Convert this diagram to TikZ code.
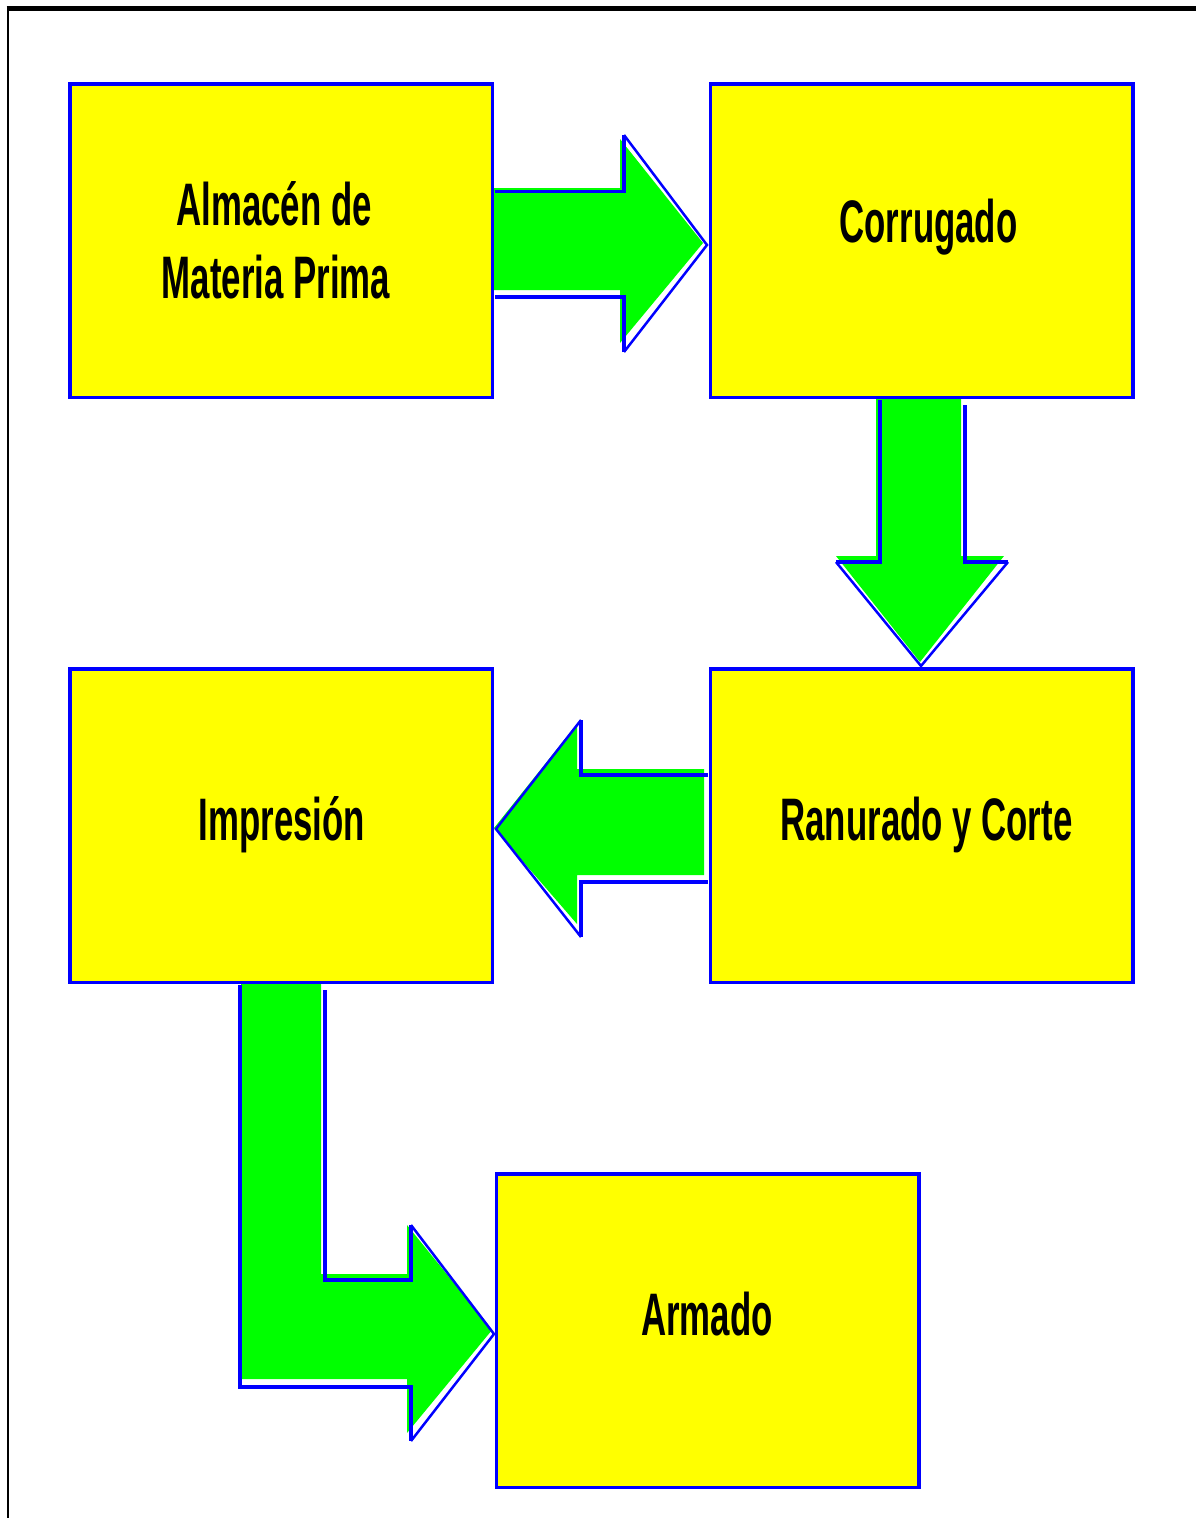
\documentclass[tikz,border=0pt]{standalone}
\usepackage{fontspec}
\newfontfamily\lblfont{Liberation Sans}[FakeStretch=0.58]
\definecolor{boxyellow}{RGB}{255,255,0}
\definecolor{boxblue}{RGB}{0,0,255}
\definecolor{arrgreen}{RGB}{0,255,0}
\begin{document}
\begin{tikzpicture}[x=1pt,y=-1pt,
  box/.style={draw=boxblue,fill=boxyellow,line width=3.5pt,minimum width=422.5pt,minimum height=313.5pt,inner sep=0pt},
  lbl/.style={font=\lblfont\bfseries\fontsize{60}{73}\selectfont,anchor=base,inner sep=0pt},
  arrfill/.style={fill=arrgreen},
  arredge/.style={draw=boxblue,line width=3.5pt,line join=miter},
  frameline/.style={draw=black}]
\useasboundingbox (0,0) rectangle (1196,1518);
\fill[white] (0,0) rectangle (1196,1518);
% outer frame
\draw[frameline,line width=5pt] (6.5,8.5) -- (1196,8.5);
\draw[frameline,line width=2.5pt] (8,6) -- (8,1518);
% boxes
\node[box] (alm) at (281,240.5) {};
\node[box] (cor) at (921.5,240.5) {};
\node[box] (imp) at (281,825.5) {};
\node[box] (ran) at (921.5,825.5) {};
\node[box] (arm) at (707.5,1330.5) {};
% arrow alm -> cor
\fill[arrfill] (494,188) -- (620,188) -- (620,139) -- (703,243) -- (620,343) -- (620,290) -- (494,290) -- cycle;
\draw[arredge] (495,191.5) -- (624,191.5) -- (624,135);
\draw[arredge,line width=2.5pt] (624,135) -- (707,245) -- (624,352);
\draw[arredge] (624,352) -- (624,297) -- (495,297);
% arrow cor -> ran
\fill[arrfill] (876,399) -- (876,556) -- (836,556) -- (920,662) -- (1004,556) -- (961,556) -- (961,399) -- cycle;
\draw[arredge] (880,400) -- (880,562) -- (836,562);
\draw[arredge,line width=2.5pt] (836,562) -- (921,666) -- (1008,562);
\draw[arredge] (1008,562) -- (965,562) -- (965,405);
% arrow ran -> imp
\fill[arrfill] (704,769) -- (577,769) -- (577,724) -- (494,828) -- (577,924) -- (577,875) -- (704,875) -- cycle;
\draw[arredge] (708,775) -- (581,775) -- (581,720);
\draw[arredge,line width=2.5pt] (581,720) -- (496,829) -- (581,937);
\draw[arredge] (581,937) -- (581,882) -- (708,882);
% arrow imp -> arm
\fill[arrfill] (241,984) -- (241,1379) -- (407,1379) -- (407,1433) -- (492,1330) -- (407,1225) -- (407,1274) -- (321,1274) -- (321,984) -- cycle;
\draw[arredge] (240,985) -- (240,1387) -- (411,1387) -- (411,1441);
\draw[arredge,line width=2.5pt] (411,1441) -- (494,1334) -- (411,1225);
\draw[arredge] (411,1225) -- (411,1280) -- (325,1280) -- (325,990);
% labels
\node[lbl] (talma) at (274,225) {Almacén de};
\node[lbl] (talmb) at (276,298) {Materia Prima};
\node[lbl] (tcor) at (928.5,242) {Corrugado};
\node[lbl] (timp) at (282,840) {Impresión};
\node[lbl] (tran) at (926.5,840) {Ranurado y Corte};
\node[lbl] (tarm) at (707,1335) {Armado};
\end{tikzpicture}
\end{document}
